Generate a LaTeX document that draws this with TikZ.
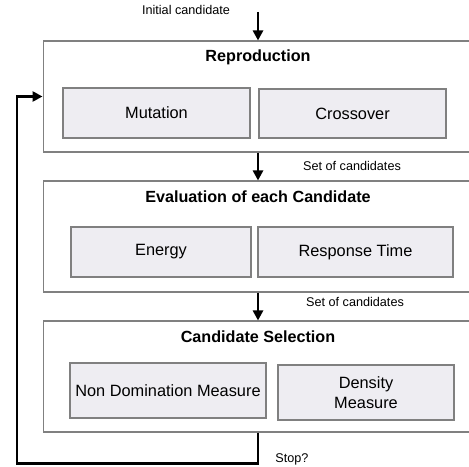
\documentclass[tikz,border=0pt]{standalone}
\usepackage{fontspec}
\setmainfont{Liberation Sans}
\usetikzlibrary{arrows.meta}

\definecolor{partfill}{RGB}{238,237,242}
\definecolor{edgegray}{RGB}{128,128,128}

\tikzset{
    stage/.style={draw=edgegray, line width=0.6pt, minimum width=8.74cm,
        minimum height=2.22cm, inner sep=0pt},
    part/.style={draw=edgegray, fill=partfill, line width=0.6pt, inner sep=0pt,
        align=center, font=\fontsize{9.3}{11}\selectfont},
    title/.style={font=\fontsize{9.2}{11}\selectfont\bfseries},
    note/.style={font=\fontsize{7.2}{9}\selectfont},
    flow/.style={-{Triangle[length=5.7pt,width=5.7pt]}, line width=1.7pt}
}

\begin{document}
\begin{tikzpicture}[x=0.02cm,y=-0.02cm]
        \useasboundingbox (0,0) rectangle (469,466);

        \coordinate (start) at (258,12);
        \coordinate (loop)  at (17,463);

        % stages
        \node[stage] (reprod) at (261.5, 96.5) {};
        \node[stage] (eval)   at (261.5,236.5) {};
        \node[stage] (select) at (261.5,376.5) {};

        \node[title] (reprodT) at (258, 57) {Reproduction};
        \node[title] (evalT)   at (258,197) {Evaluation of each Candidate};
        \node[title] (selectT) at (258,337) {Candidate Selection};

        % operators
        \node[part, minimum width=3.74cm, minimum height=1cm]  (mut)   at (156.5,113)   {Mutation};
        \node[part, minimum width=3.74cm, minimum height=0.98cm] (cross) at (352.5,113.5) {Crossover};
        \node[part, minimum width=3.6cm,  minimum height=1cm]  (energy) at (161,252)    {Energy};
        \node[part, minimum width=3.9cm,  minimum height=1cm]  (resp)  at (355.5,252)   {Response Time};
        \node[part, minimum width=3.92cm, minimum height=1.1cm] (nondom) at (168,390.5)  {Non Domination Measure};
        \node[part, minimum width=3.52cm, minimum height=1.1cm] (dens)  at (366,392.5)   {Density\\Measure};

        % texts
        \node[note] (initL) at (186, 10)  {Initial candidate};
        \node[note] (set1L) at (352,166)  {Set of candidates};
        \node[note] (set2L) at (355,302)  {Set of candidates};
        \node[note] (stopL) at (292,459)  {Stop?};

        % arrows
        \draw[flow] (start) -- (start |- reprod.north);
        \draw[flow] (start |- reprod.south) -- (start |- eval.north);
        \draw[flow] (start |- eval.south) -- (start |- select.north);
        \draw[flow] (start |- select.south) |- (loop) |- (reprod.west);
\end{tikzpicture}
\end{document}
